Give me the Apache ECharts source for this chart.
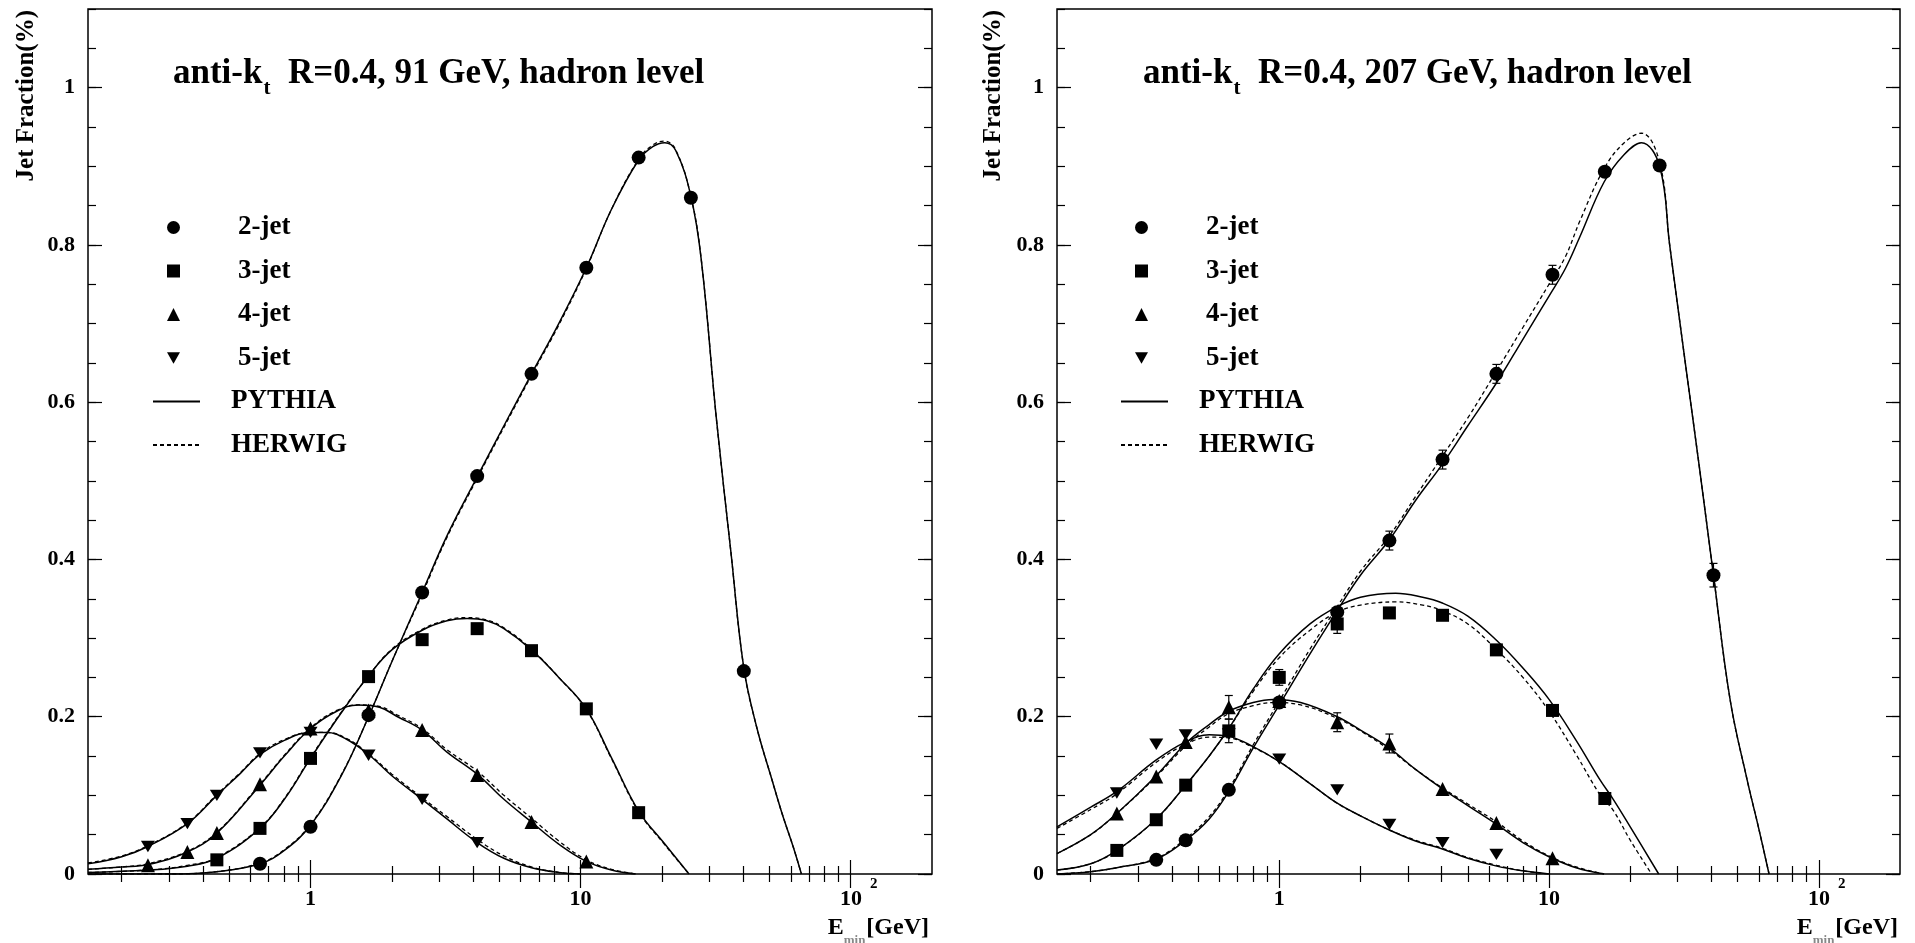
<!DOCTYPE html>
<html>
<head>
<meta charset="utf-8">
<script src="https://cdn.jsdelivr.net/npm/echarts@6/dist/echarts.min.js"></script>
<style>
html, body { margin: 0; padding: 0; background: #fff; }
#main { width: 1915px; height: 943px; }
</style>
</head>
<body>
<div id="main"></div>
<script>
// ---- data ----
var decadeTicks = [1, 10, 100];
var minorTicks = [0.2, 0.3, 0.4, 0.5, 0.6, 0.7, 0.8, 0.9, 2, 3, 4, 5, 6, 7, 8, 9, 20, 30, 40, 50, 60, 70, 80, 90];
var yLabels = [0, 0.2, 0.4, 0.6, 0.8, 1];

var titles = ['91 GeV', '207 GeV'];
var jetNames = ['2-jet', '3-jet', '4-jet', '5-jet'];
var mcNames = ['PYTHIA', 'HERWIG'];

// 91 GeV, data points [Emin, fraction]
var j2_91 = [[0.65, 0.013], [1.0, 0.060], [1.64, 0.202], [2.59, 0.358], [4.14, 0.506], [6.58, 0.636], [10.5, 0.771], [16.4, 0.911], [25.6, 0.860], [40.2, 0.258]];
var j3_91 = [[0.45, 0.018], [0.65, 0.058], [1.0, 0.147], [1.64, 0.251], [2.59, 0.298], [4.14, 0.312], [6.58, 0.284], [10.5, 0.210], [16.4, 0.078]];
var j4_91 = [[0.25, 0.011], [0.35, 0.028], [0.45, 0.052], [0.65, 0.114], [1.0, 0.185], [1.64, 0.208], [2.59, 0.183], [4.14, 0.126], [6.58, 0.066], [10.5, 0.016]];
var j5_91 = [[0.25, 0.035], [0.35, 0.064], [0.45, 0.100], [0.65, 0.154], [1.0, 0.180], [1.64, 0.151], [2.59, 0.095], [4.14, 0.040]];

// 91 GeV, PYTHIA curves
var py2_91 = [[0.15, 0.0], [0.3, 0.0], [0.45, 0.003], [0.65, 0.013], [0.8, 0.03], [1.0, 0.062], [1.3, 0.125], [1.64, 0.2], [2.0, 0.27], [2.59, 0.358], [3.2, 0.43], [4.14, 0.505], [5.2, 0.57], [6.58, 0.636], [8.3, 0.70], [10.5, 0.771], [13, 0.845], [16.4, 0.908], [18.5, 0.925], [20.5, 0.93], [22.5, 0.92], [25.6, 0.862], [28, 0.78], [31.8, 0.58], [36, 0.41], [40.2, 0.262], [45, 0.185], [51.2, 0.119], [55.7, 0.077], [61.2, 0.035], [65.7, 0.0]];
var py3_91 = [[0.15, 0.002], [0.25, 0.005], [0.35, 0.01], [0.45, 0.02], [0.65, 0.058], [0.8, 0.095], [1.0, 0.147], [1.3, 0.205], [1.64, 0.252], [2.0, 0.285], [2.59, 0.31], [3.2, 0.322], [3.8, 0.325], [4.5, 0.322], [5.2, 0.312], [6.58, 0.285], [8.3, 0.25], [10.5, 0.21], [13, 0.148], [16.4, 0.08], [20.4, 0.039], [25.2, 0.0]];
var py4_91 = [[0.15, 0.006], [0.2, 0.009], [0.25, 0.012], [0.35, 0.028], [0.45, 0.052], [0.65, 0.113], [0.8, 0.15], [1.0, 0.185], [1.25, 0.207], [1.5, 0.215], [1.8, 0.212], [2.1, 0.2], [2.59, 0.183], [3.2, 0.155], [4.14, 0.127], [5.2, 0.095], [6.58, 0.066], [8.3, 0.038], [10.5, 0.016], [13, 0.005], [16, 0.0]];
var py5_91 = [[0.15, 0.013], [0.2, 0.022], [0.25, 0.035], [0.35, 0.064], [0.45, 0.1], [0.55, 0.128], [0.65, 0.152], [0.8, 0.17], [1.0, 0.18], [1.15, 0.18], [1.35, 0.172], [1.64, 0.152], [2.0, 0.125], [2.59, 0.095], [3.2, 0.07], [4.14, 0.04], [5.2, 0.02], [6.58, 0.008], [8.3, 0.002], [10, 0.0]];

// 91 GeV, HERWIG curves
var hw2_91 = [[0.15, 0.0], [0.3, 0.0], [0.45, 0.003], [0.65, 0.014], [0.8, 0.031], [1.0, 0.063], [1.3, 0.126], [1.64, 0.2], [2.0, 0.27], [2.59, 0.356], [3.2, 0.428], [4.14, 0.503], [5.2, 0.568], [6.58, 0.634], [8.3, 0.698], [10.5, 0.77], [13, 0.845], [16.4, 0.909], [18.5, 0.927], [20.5, 0.932], [22.5, 0.921], [25.6, 0.862], [28, 0.78], [31.8, 0.58], [36, 0.41], [40.2, 0.262], [45, 0.185], [51.2, 0.119], [55.7, 0.077], [61.2, 0.035], [65.7, 0.0]];
var hw3_91 = [[0.15, 0.002], [0.25, 0.005], [0.35, 0.011], [0.45, 0.021], [0.65, 0.059], [0.8, 0.096], [1.0, 0.148], [1.3, 0.206], [1.64, 0.252], [2.0, 0.286], [2.59, 0.311], [3.2, 0.323], [3.8, 0.326], [4.5, 0.323], [5.2, 0.313], [6.58, 0.286], [8.3, 0.25], [10.5, 0.209], [13, 0.147], [16.4, 0.079], [20.4, 0.038], [25.2, 0.0]];
var hw4_91 = [[0.15, 0.006], [0.2, 0.009], [0.25, 0.013], [0.35, 0.029], [0.45, 0.053], [0.65, 0.114], [0.8, 0.151], [1.0, 0.186], [1.25, 0.208], [1.5, 0.215], [1.8, 0.213], [2.1, 0.202], [2.59, 0.185], [3.2, 0.158], [4.14, 0.131], [5.2, 0.1], [6.58, 0.071], [8.3, 0.042], [10.5, 0.018], [13, 0.006], [16, 0.0]];
var hw5_91 = [[0.15, 0.014], [0.2, 0.023], [0.25, 0.036], [0.35, 0.065], [0.45, 0.101], [0.55, 0.129], [0.65, 0.153], [0.8, 0.171], [1.0, 0.18], [1.15, 0.18], [1.35, 0.173], [1.64, 0.153], [2.0, 0.127], [2.59, 0.097], [3.2, 0.073], [4.14, 0.044], [5.2, 0.023], [6.58, 0.009], [8.3, 0.002], [10, 0.0]];

// 207 GeV, data points
var j2_207 = [[0.35, 0.018], [0.45, 0.043], [0.65, 0.107], [1.0, 0.218], [1.64, 0.333], [2.56, 0.424], [4.03, 0.527], [6.38, 0.636], [10.3, 0.762], [16.1, 0.893], [25.7, 0.901], [40.7, 0.380]];
var j3_207 = [[0.25, 0.030], [0.35, 0.069], [0.45, 0.113], [0.65, 0.182], [1.0, 0.250], [1.64, 0.318], [2.56, 0.332], [4.03, 0.329], [6.38, 0.285], [10.3, 0.208], [16.1, 0.096]];
var j4_207 = [[0.25, 0.077], [0.35, 0.124], [0.45, 0.168], [0.65, 0.212], [1.0, 0.220], [1.64, 0.193], [2.56, 0.166], [4.03, 0.108], [6.38, 0.065], [10.3, 0.020]];
var j5_207 = [[0.25, 0.103], [0.35, 0.165], [0.45, 0.177], [0.65, 0.178], [1.0, 0.146], [1.64, 0.107], [2.56, 0.063], [4.03, 0.040], [6.38, 0.025]];
// [Emin, fraction, error]
var err207 = [[2.56, 0.424, 0.012], [4.03, 0.527, 0.012], [6.38, 0.636, 0.012], [10.3, 0.762, 0.012], [40.7, 0.380, 0.015], [0.65, 0.212, 0.015], [1.64, 0.193, 0.012], [2.56, 0.166, 0.012], [0.65, 0.182, 0.015], [1.64, 0.318, 0.012], [1.0, 0.250, 0.01]];

// 207 GeV, PYTHIA curves
var py2_207 = [[0.15, 0.0], [0.2, 0.003], [0.25, 0.008], [0.35, 0.019], [0.45, 0.043], [0.55, 0.07], [0.65, 0.105], [0.8, 0.16], [1.0, 0.215], [1.3, 0.28], [1.64, 0.335], [2.0, 0.38], [2.56, 0.425], [3.2, 0.475], [4.0, 0.52], [5.0, 0.57], [6.4, 0.625], [8.0, 0.68], [10, 0.735], [11.5, 0.77], [13, 0.81], [16, 0.88], [19, 0.915], [22, 0.93], [25.7, 0.90], [28, 0.80], [32, 0.65], [36, 0.52], [40.7, 0.38], [47, 0.22], [54.3, 0.119], [59.7, 0.06], [65.4, 0.0]];
var py3_207 = [[0.15, 0.005], [0.2, 0.013], [0.25, 0.03], [0.35, 0.07], [0.45, 0.113], [0.55, 0.15], [0.65, 0.185], [0.8, 0.235], [1.0, 0.28], [1.3, 0.318], [1.64, 0.34], [2.0, 0.352], [2.7, 0.357], [3.4, 0.352], [4.0, 0.345], [5.0, 0.328], [6.4, 0.297], [8.0, 0.262], [10, 0.222], [12.6, 0.17], [15.5, 0.119], [17.3, 0.095], [20, 0.06], [25.5, 0.0]];
var py4_207 = [[0.15, 0.026], [0.2, 0.05], [0.25, 0.077], [0.35, 0.125], [0.45, 0.166], [0.55, 0.19], [0.65, 0.207], [0.8, 0.218], [0.95, 0.222], [1.2, 0.218], [1.64, 0.2], [2.0, 0.183], [2.56, 0.16], [3.2, 0.133], [4.0, 0.109], [5.0, 0.087], [6.4, 0.063], [8.0, 0.04], [10, 0.022], [12.6, 0.008], [16, 0.0]];
var py5_207 = [[0.15, 0.06], [0.2, 0.085], [0.25, 0.105], [0.35, 0.145], [0.45, 0.168], [0.55, 0.177], [0.65, 0.175], [0.8, 0.162], [1.0, 0.143], [1.3, 0.115], [1.64, 0.09], [2.0, 0.074], [2.56, 0.056], [3.2, 0.042], [4.0, 0.032], [5.0, 0.02], [6.4, 0.01], [8.0, 0.004], [10, 0.0]];

// 207 GeV, HERWIG curves
var hw2_207 = [[0.15, 0.0], [0.2, 0.003], [0.25, 0.008], [0.35, 0.02], [0.45, 0.045], [0.55, 0.073], [0.65, 0.108], [0.8, 0.164], [1.0, 0.22], [1.3, 0.286], [1.64, 0.34], [2.0, 0.385], [2.56, 0.43], [3.2, 0.48], [4.0, 0.53], [5.0, 0.58], [6.4, 0.64], [8.0, 0.695], [10, 0.75], [11.5, 0.785], [13, 0.83], [16, 0.897], [19, 0.93], [22, 0.942], [25.7, 0.905], [28, 0.80], [32, 0.65], [36, 0.52], [40.7, 0.38], [47, 0.22], [54.3, 0.119], [59.7, 0.06], [65.4, 0.0]];
var hw3_207 = [[0.15, 0.005], [0.2, 0.013], [0.25, 0.03], [0.35, 0.07], [0.45, 0.113], [0.55, 0.15], [0.65, 0.185], [0.8, 0.232], [1.0, 0.275], [1.3, 0.31], [1.64, 0.333], [2.0, 0.342], [2.7, 0.346], [3.4, 0.342], [4.0, 0.335], [5.0, 0.318], [6.4, 0.285], [8.0, 0.25], [10, 0.207], [12.6, 0.152], [15.5, 0.1], [17.3, 0.081], [20, 0.043], [24, 0.0]];
var hw4_207 = [[0.15, 0.026], [0.2, 0.05], [0.25, 0.077], [0.35, 0.124], [0.45, 0.163], [0.55, 0.187], [0.65, 0.204], [0.8, 0.214], [0.95, 0.218], [1.2, 0.215], [1.64, 0.198], [2.0, 0.182], [2.56, 0.158], [3.2, 0.133], [4.0, 0.11], [5.0, 0.089], [6.4, 0.066], [8.0, 0.042], [10, 0.023], [12.6, 0.009], [16, 0.0]];
var hw5_207 = [[0.15, 0.058], [0.2, 0.082], [0.25, 0.102], [0.35, 0.142], [0.45, 0.165], [0.55, 0.174], [0.65, 0.173], [0.8, 0.161], [1.0, 0.143], [1.3, 0.115], [1.64, 0.09], [2.0, 0.074], [2.56, 0.056], [3.2, 0.043], [4.0, 0.033], [5.0, 0.021], [6.4, 0.011], [8.0, 0.004], [10, 0.0]];

// ---- chart ----
var FONT = '"Liberation Serif", "Times New Roman", serif';
var symbols = ['circle', 'rect', 'triangle', 'path://M0,0L10,0L5,8.7Z'];
var symbolSizes = [14, 13, 14, [14, 13]];

var grids = [
    { left: 88, right: 983, top: 9, bottom: 69 },
    { left: 1057, right: 15, top: 9, bottom: 69 }
];

function tickStyle() {
    return { color: '#000', width: 1.2 };
}

function makeXAxes(g) {
    var base = {
        type: 'log', logBase: 10, gridIndex: g, min: 0.15, max: 200,
        axisLine: { show: false }, splitLine: { show: false },
        minorTick: { show: false }, minorSplitLine: { show: false }
    };
    return [
        Object.assign({}, base, {
            position: 'bottom',
            axisTick: { inside: true, length: 14, customValues: decadeTicks, lineStyle: tickStyle() },
            axisLabel: {
                customValues: decadeTicks, margin: 10,
                formatter: function (v) {
                    if (v === 100) return '{c|10}{s|2}';
                    return '{b|' + v + '}';
                },
                rich: {
                    b: { fontFamily: FONT, fontWeight: 'bold', fontSize: 22, lineHeight: 26, color: '#000', padding: [8, 0, 0, 0], verticalAlign: 'bottom' },
                    c: { fontFamily: FONT, fontWeight: 'bold', fontSize: 22, lineHeight: 26, color: '#000', padding: [8, 0, 0, 16], verticalAlign: 'bottom' },
                    s: { fontFamily: FONT, fontWeight: 'bold', fontSize: 15, lineHeight: 16, color: '#000', padding: [0, 0, 18, 8], verticalAlign: 'bottom' }
                }
            }
        }),
        Object.assign({}, base, {
            position: 'bottom',
            axisTick: { inside: true, length: 8, customValues: minorTicks, lineStyle: tickStyle() },
            axisLabel: { show: false }
        }),
        Object.assign({}, base, {
            position: 'top',
            axisTick: { inside: true, length: 14, customValues: decadeTicks, lineStyle: tickStyle() },
            axisLabel: { show: false }
        }),
        Object.assign({}, base, {
            position: 'top',
            axisTick: { inside: true, length: 8, customValues: minorTicks, lineStyle: tickStyle() },
            axisLabel: { show: false }
        })
    ];
}

function makeYAxes(g) {
    var base = {
        type: 'value', gridIndex: g, min: 0, max: 1.1,
        axisLine: { show: false }, splitLine: { show: false }
    };
    return [
        Object.assign({}, base, {
            position: 'left',
            axisTick: { inside: true, length: 14, customValues: yLabels, lineStyle: tickStyle() },
            axisLabel: {
                customValues: yLabels, margin: 13,
                fontFamily: FONT, fontWeight: 'bold', fontSize: 22, color: '#000',
                formatter: function (v) { return String(v); }
            }
        }),
        Object.assign({}, base, {
            position: 'left', interval: 0.05,
            axisTick: { inside: true, length: 8, lineStyle: tickStyle() },
            axisLabel: { show: false }
        }),
        Object.assign({}, base, {
            position: 'right',
            axisTick: { inside: true, length: 14, customValues: yLabels, lineStyle: tickStyle() },
            axisLabel: { show: false }
        }),
        Object.assign({}, base, {
            position: 'right', interval: 0.05,
            axisTick: { inside: true, length: 8, lineStyle: tickStyle() },
            axisLabel: { show: false }
        })
    ];
}

var panels = [
    { pts: [j2_91, j3_91, j4_91, j5_91], py: [py2_91, py3_91, py4_91, py5_91], hw: [hw2_91, hw3_91, hw4_91, hw5_91], err: [] },
    { pts: [j2_207, j3_207, j4_207, j5_207], py: [py2_207, py3_207, py4_207, py5_207], hw: [hw2_207, hw3_207, hw4_207, hw5_207], err: err207 }
];

function renderErr(params, api) {
    var x = api.value(0), y = api.value(1), e = api.value(2);
    var lo = api.coord([x, y - e]);
    var hi = api.coord([x, y + e]);
    var w = 4;
    var st = { stroke: '#000', lineWidth: 1.2 };
    return {
        type: 'group',
        children: [
            { type: 'line', shape: { x1: lo[0], y1: lo[1], x2: hi[0], y2: hi[1] }, style: st },
            { type: 'line', shape: { x1: lo[0] - w, y1: lo[1], x2: lo[0] + w, y2: lo[1] }, style: st },
            { type: 'line', shape: { x1: hi[0] - w, y1: hi[1], x2: hi[0] + w, y2: hi[1] }, style: st }
        ]
    };
}

var series = [];
panels.forEach(function (p, g) {
    var xi = g * 4, yi = g * 4;
    for (var k = 0; k < 4; k++) {
        series.push({
            type: 'line', name: 'PYTHIA', xAxisIndex: xi, yAxisIndex: yi,
            data: p.py[k], smooth: 0.4, symbol: 'none', silent: true,
            itemStyle: { color: '#000' },
            lineStyle: { color: '#000', width: 1.5, type: 'solid' }, z: 2
        });
        series.push({
            type: 'line', name: 'HERWIG', xAxisIndex: xi, yAxisIndex: yi,
            data: p.hw[k], smooth: 0.4, symbol: 'none', silent: true,
            itemStyle: { color: '#000' },
            lineStyle: { color: '#000', width: 1.3, type: [4, 3] }, z: 2
        });
    }
    if (p.err.length) {
        series.push({
            type: 'custom', name: 'err', xAxisIndex: xi, yAxisIndex: yi,
            data: p.err, renderItem: renderErr, encode: { x: 0, y: 1 }, silent: true, z: 3
        });
    }
    for (var j = 0; j < 4; j++) {
        series.push({
            type: 'scatter', name: jetNames[j], xAxisIndex: xi, yAxisIndex: yi,
            data: p.pts[j], symbol: symbols[j], symbolSize: symbolSizes[j], symbolKeepAspect: true,
            itemStyle: { color: '#000', opacity: 1 }, silent: true, z: 5
        });
    }
});

var legendTxt = { fontFamily: FONT, fontWeight: 'bold', fontSize: 27, lineHeight: 24, color: '#000' };

function markerLegend(left) {
    return {
        orient: 'vertical', left: left, top: 214, padding: 0,
        itemWidth: 13, itemHeight: 13, itemGap: 16.5, selectedMode: false,
        data: jetNames.map(function (n, i) {
            return { name: n, icon: symbols[i], itemStyle: { color: '#000', opacity: 1 } };
        }),
        formatter: function (n) { return '{j|' + n + '}'; },
        textStyle: Object.assign({}, legendTxt, {
            rich: { j: Object.assign({}, legendTxt, { padding: [0, 0, 0, 53] }) }
        })
    };
}

function lineLegend(left) {
    return {
        orient: 'vertical', left: left, top: 388, padding: 0,
        itemWidth: 47, itemHeight: 13, itemGap: 16.5, selectedMode: false,
        data: mcNames.map(function (n) {
            return { name: n, itemStyle: { opacity: 0 } };
        }),
        formatter: function (n) { return '{p|' + n + '}'; },
        textStyle: Object.assign({}, legendTxt, {
            rich: { p: Object.assign({}, legendTxt, { padding: [0, 0, 0, 26] }) }
        })
    };
}

function makeTitle(left, energy) {
    var a = { fontFamily: FONT, fontWeight: 'bold', fontSize: 35, lineHeight: 39, color: '#000', verticalAlign: 'top' };
    return {
        left: left, top: 56, padding: 0,
        text: '{a|anti-k}{s|t}{a|  R=0.4, ' + energy + ', hadron level}',
        textStyle: {
            rich: {
                a: a,
                s: { fontFamily: FONT, fontWeight: 'bold', fontSize: 21, lineHeight: 22, color: '#000', verticalAlign: 'top', padding: [22, 0, 0, 1] }
            }
        }
    };
}

function yName(x) {
    return {
        type: 'text', x: x, y: 10, rotation: Math.PI / 2,
        style: { text: 'Jet Fraction(%)', font: 'bold 25px ' + FONT, fill: '#000', align: 'right', verticalAlign: 'middle' }
    };
}

function xName(x) {
    var e = { fontFamily: FONT, fontWeight: 'bold', fontSize: 24, lineHeight: 26, fill: '#000', verticalAlign: 'top' };
    return {
        type: 'text', x: x, y: 916,
        style: {
            text: '{e|E}{m|min}{e|[GeV]}', align: 'right', verticalAlign: 'top',
            rich: {
                e: e,
                m: { fontFamily: FONT, fontWeight: 'bold', fontSize: 13, lineHeight: 14, fill: '#888', verticalAlign: 'top', padding: [18, 1, 0, 0] }
            }
        }
    };
}

var chart = echarts.init(document.getElementById('main'), null, { renderer: 'canvas' });
chart.setOption({
    backgroundColor: '#fff',
    animation: false,
    title: [makeTitle(173, titles[0]), makeTitle(1143, titles[1])],
    legend: [markerLegend(167), lineLegend(152), markerLegend(1135), lineLegend(1120)],
    grid: grids.map(function (g) {
        return Object.assign({ show: true, borderColor: '#000', borderWidth: 1.5, backgroundColor: 'transparent' }, g);
    }),
    xAxis: makeXAxes(0).concat(makeXAxes(1)),
    yAxis: makeYAxes(0).concat(makeYAxes(1)),
    graphic: [yName(27), yName(994), xName(929), xName(1898)],
    series: series
});
</script>
</body>
</html>
